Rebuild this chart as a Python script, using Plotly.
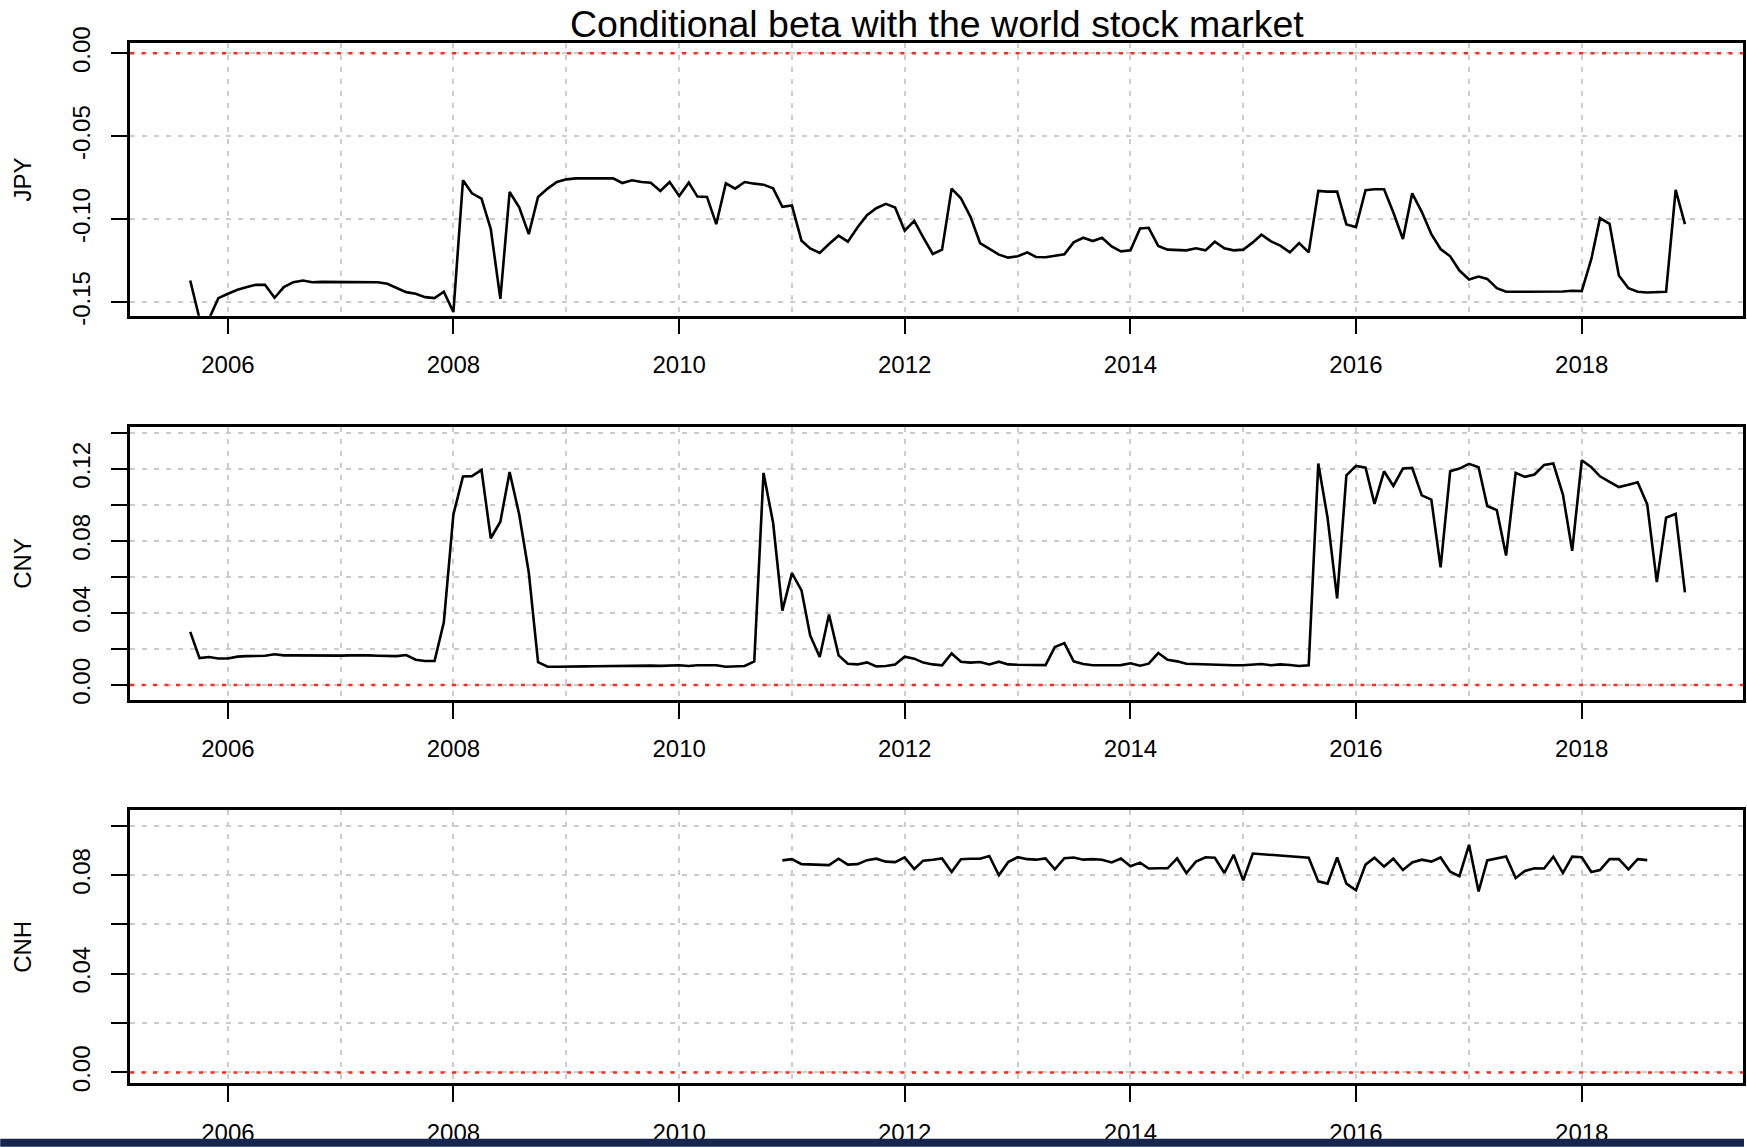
import pandas as pd
import plotly.graph_objects as go

# ---------------- data (monthly conditional betas) ----------------
main_start = "2005-09-01"   # JPY and CNY start month
cnh_start = "2010-12-01"    # CNH start month

jpy = [
    -0.137, -0.160, -0.160, -0.1476,
    -0.145, -0.1426, -0.141, -0.1396, -0.1396, -0.1474, -0.141, -0.138, -0.137, -0.138, -0.1378, -0.1378,
    -0.138, -0.1376, -0.138, -0.1376, -0.138, -0.139, -0.1414, -0.144, -0.145, -0.147, -0.1476, -0.1438,
    -0.156, -0.0766, -0.0844, -0.0876, -0.106, -0.148, -0.0836, -0.0928, -0.109, -0.0866, -0.0816, -0.0776,
    -0.076, -0.0754, -0.0754, -0.0754, -0.0754, -0.0754, -0.0782, -0.0766, -0.0776, -0.078, -0.083, -0.0776,
    -0.086, -0.078, -0.0864, -0.0866, -0.103, -0.0784, -0.0816, -0.0776, -0.0786, -0.0792, -0.0814, -0.0926,
    -0.0918, -0.113, -0.1176, -0.1204, -0.115, -0.110, -0.1136, -0.105, -0.0976, -0.0934, -0.0908, -0.093,
    -0.107, -0.101, -0.111, -0.121, -0.1184, -0.0816, -0.0874, -0.0986, -0.1144, -0.1176, -0.1214, -0.1232,
    -0.1224, -0.120, -0.1228, -0.123, -0.122, -0.1212, -0.114, -0.1112, -0.1132, -0.1112, -0.1164, -0.1194,
    -0.1188, -0.1056, -0.1052, -0.1162, -0.1184, -0.1188, -0.1188, -0.1176, -0.1188, -0.1136, -0.1176, -0.1188,
    -0.1184, -0.114, -0.1094, -0.1134, -0.116, -0.120, -0.1144, -0.120, -0.083, -0.0834, -0.0834, -0.1032,
    -0.1048, -0.0826, -0.082, -0.082, -0.096, -0.112, -0.0844, -0.0956, -0.109, -0.118, -0.1224, -0.131,
    -0.1364, -0.1346, -0.136, -0.1416, -0.1438, -0.1438, -0.1438, -0.1438, -0.1438, -0.1438, -0.1436, -0.1432,
    -0.1434, -0.124, -0.0994, -0.1028, -0.134, -0.1416, -0.1438, -0.1442, -0.144, -0.1438, -0.0824, -0.103,
]

cny = [
    0.0295, 0.0149, 0.0155, 0.0147,
    0.0147, 0.0157, 0.016, 0.016, 0.0162, 0.017, 0.0164, 0.0164, 0.0163, 0.0164, 0.0164, 0.0163,
    0.0163, 0.0164, 0.0165, 0.0164, 0.0162, 0.016, 0.016, 0.0166, 0.014, 0.0133, 0.0133, 0.0348,
    0.0947, 0.1158, 0.116, 0.1194, 0.0815, 0.0907, 0.1183, 0.0947, 0.0625, 0.0127, 0.0101, 0.0101,
    0.0103, 0.0104, 0.0103, 0.0104, 0.0105, 0.0105, 0.0106, 0.0106, 0.0107, 0.0107, 0.0106, 0.0107,
    0.0109, 0.0105, 0.0109, 0.0109, 0.0109, 0.0101, 0.0105, 0.0105, 0.0131, 0.1178, 0.0901, 0.0413,
    0.0621, 0.0525, 0.0275, 0.0155, 0.0391, 0.0164, 0.0118, 0.0114, 0.0125, 0.0103, 0.0105, 0.0114,
    0.0157, 0.0146, 0.0124, 0.0114, 0.0109, 0.0175, 0.0129, 0.0124, 0.0127, 0.0114, 0.0129, 0.0114,
    0.0112, 0.011, 0.011, 0.011, 0.021, 0.0232, 0.0131, 0.0116, 0.0109, 0.011, 0.011, 0.011,
    0.012, 0.0107, 0.0118, 0.0177, 0.014, 0.0131, 0.0118, 0.0116, 0.0112, 0.0109, 0.0109, 0.0109,
    0.0109, 0.0112, 0.0116, 0.0109, 0.0114, 0.0111, 0.0105, 0.0109, 0.123, 0.0929, 0.0481, 0.1165,
    0.1217, 0.1207, 0.1006, 0.1187, 0.1106, 0.1202, 0.1206, 0.1053, 0.103, 0.0653, 0.1187, 0.1202,
    0.1228, 0.1209, 0.0994, 0.0971, 0.0719, 0.1178, 0.1156, 0.1169, 0.1222, 0.123, 0.1058, 0.0745,
    0.1248, 0.1209, 0.1159, 0.1128, 0.1099, 0.1112, 0.1126, 0.1003, 0.0571, 0.0929, 0.0951, 0.0514,
]

cnh = [
    0.0859,
    0.0864, 0.0844, 0.0843, 0.0842, 0.084, 0.0866, 0.0842, 0.0844, 0.086, 0.0866, 0.0854, 0.0852,
    0.0871, 0.0824, 0.0858, 0.0862, 0.0867, 0.0812, 0.0864, 0.0866, 0.0866, 0.0877, 0.0799, 0.0852,
    0.0872, 0.0864, 0.0862, 0.0867, 0.0823, 0.0868, 0.0871, 0.0862, 0.0864, 0.0862, 0.0851, 0.0867,
    0.0835, 0.085, 0.0826, 0.0827, 0.0827, 0.0867, 0.0808, 0.0854, 0.0872, 0.087, 0.0808, 0.0882,
    0.0778, 0.0887, 0.0884, 0.0882, 0.088, 0.0877, 0.0872, 0.087, 0.0774, 0.0765, 0.0871, 0.0765,
    0.0738, 0.0842, 0.087, 0.0834, 0.0866, 0.082, 0.0851, 0.0862, 0.0854, 0.0871, 0.0813, 0.0795,
    0.0922, 0.0733, 0.0859, 0.0867, 0.0875, 0.0788, 0.0816, 0.0827, 0.0826, 0.0874, 0.0808, 0.0874,
    0.0872, 0.0812, 0.082, 0.0864, 0.0864, 0.0823, 0.0864, 0.086,
]

series_names = ["JPY", "CNY", "CNH"]
title_text = "Conditional beta with the world stock market"

label_years = [2006, 2008, 2010, 2012, 2014, 2016, 2018]
grid_years = [2007, 2009, 2011, 2013, 2015, 2017]

jpy_ticks = [-0.15, -0.10, -0.05, 0.00]
jpy_labels = ["-0.15", "-0.10", "-0.05", "0.00"]
cny_ticks = [0.00, 0.02, 0.04, 0.06, 0.08, 0.10, 0.12, 0.14]
cny_labels = ["0.00", "", "0.04", "", "0.08", "", "0.12", ""]
cnh_ticks = [0.00, 0.02, 0.04, 0.06, 0.08, 0.10]
cnh_labels = ["0.00", "", "0.04", "", "0.08", ""]

# ---------------- figure ----------------
main_dates = pd.date_range(main_start, periods=len(jpy), freq="MS")
cnh_dates = pd.date_range(cnh_start, periods=len(cnh), freq="MS")

W, H = 1747, 1147
ML, MR, MT, MB = 130, 1, 43, 59
FONT = "Liberation Sans, Arial, Helvetica, sans-serif"
GRID = "#cccccc"
GRID_DASH = "5px,7px"
TICK_FONT = dict(size=24, color="black", family=FONT)

fig = go.Figure()
line_style = dict(color="black", width=2.6)
fig.add_trace(go.Scatter(x=main_dates, y=jpy, mode="lines", line=line_style, xaxis="x", yaxis="y", showlegend=False))
fig.add_trace(go.Scatter(x=main_dates, y=cny, mode="lines", line=line_style, xaxis="x2", yaxis="y2", showlegend=False))
fig.add_trace(go.Scatter(x=cnh_dates, y=cnh, mode="lines", line=line_style, xaxis="x3", yaxis="y3", showlegend=False))

domains = [[0.7378, 1.0], [0.3684, 0.6306], [0.0, 0.2622]]
yranges = [[-0.1582, 0.0062], [-0.0083, 0.1432], [-0.0043, 0.1062]]
yticks = [(jpy_ticks, jpy_labels), (cny_ticks, cny_labels), (cnh_ticks, cnh_labels)]

xrange = ["2005-02-18", "2019-06-07"]


def xaxis_cfg(anchor):
    return dict(
        type="date", range=xrange, anchor=anchor, domain=[0, 1],
        tickmode="array",
        tickvals=[f"{y}-01-01" for y in label_years],
        ticktext=[str(y) for y in label_years],
        ticks="outside", ticklen=16, tickwidth=2.2, tickcolor="black",
        ticklabelstandoff=10,
        showgrid=True, gridcolor=GRID, griddash=GRID_DASH, gridwidth=1.8,
        minor=dict(tickmode="array", tickvals=[f"{y}-01-01" for y in grid_years],
                   showgrid=True, gridcolor=GRID, griddash=GRID_DASH, gridwidth=1.8, ticks=""),
        showline=True, linecolor="black", linewidth=2.5, mirror=True,
        zeroline=False,
        tickfont=TICK_FONT,
    )


def yaxis_cfg(anchor, dom, rng, tv, tt):
    return dict(
        domain=dom, range=rng, anchor=anchor,
        tickmode="array", tickvals=tv, ticktext=tt, tickangle=-90,
        ticks="outside", ticklen=16, tickwidth=2.2, tickcolor="black",
        ticklabelstandoff=12,
        showgrid=True, gridcolor=GRID, griddash=GRID_DASH, gridwidth=1.8,
        showline=True, linecolor="black", linewidth=2.5, mirror=True,
        zeroline=False,
        tickfont=TICK_FONT,
    )


layout = dict(
    width=W, height=H,
    margin=dict(l=ML, r=MR, t=MT, b=MB),
    paper_bgcolor="white", plot_bgcolor="white",
    font=dict(family=FONT, color="black"),
    showlegend=False,
)
for i in range(3):
    sx = "" if i == 0 else str(i + 1)
    layout["xaxis" + sx] = xaxis_cfg("y" + sx)
    layout["yaxis" + sx] = yaxis_cfg("x" + sx, domains[i], yranges[i], *yticks[i])
fig.update_layout(**layout)

# red dotted zero lines
for i in range(3):
    sx = "" if i == 0 else str(i + 1)
    fig.add_shape(type="line", xref=f"x{sx} domain", yref=f"y{sx}", x0=0, x1=1, y0=0, y1=0,
                  line=dict(color="#ff2a1a", width=2.5, dash="4px,7.5px"), layer="above")

plot_w = W - ML - MR
plot_h = H - MT - MB

# y axis titles
for i, name in enumerate(series_names):
    dom = domains[i]
    fig.add_annotation(text=name, xref="paper", yref="paper", x=(22 - ML) / plot_w,
                       y=(dom[0] + dom[1]) / 2, textangle=-90, showarrow=False,
                       xanchor="center", yanchor="middle",
                       font=dict(size=24, color="black", family=FONT))

# main title
fig.add_annotation(text=title_text, xref="paper", yref="paper", x=0.5, y=1 + 19 / plot_h,
                   showarrow=False, xanchor="center", yanchor="middle",
                   font=dict(size=37.5, color="black", family=FONT))

# dark band at the bottom edge of the image
band_top = 1144
fig.add_shape(type="rect", xref="paper", yref="paper",
              x0=-ML / plot_w, x1=1 + MR / plot_w,
              y0=-(H + 5 - MT - plot_h) / plot_h, y1=-(band_top - MT - plot_h) / plot_h,
              fillcolor="#17264f", line=dict(width=0), layer="above")

fig.write_html("out.html",
               config={"displayModeBar": False},
               post_script="document.body.style.margin='0';document.body.style.overflow='hidden';")
